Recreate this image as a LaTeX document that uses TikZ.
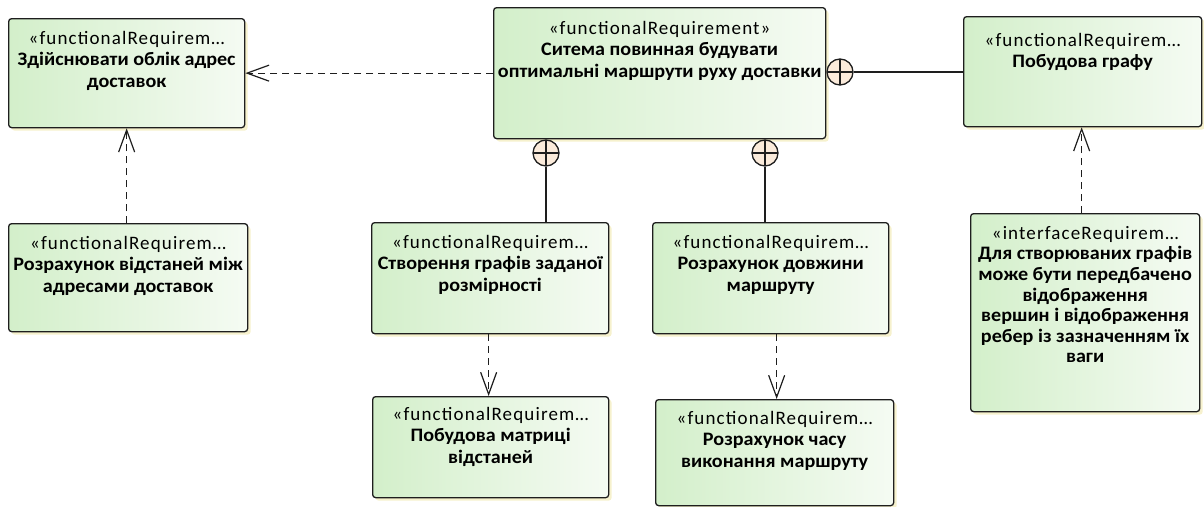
\documentclass[tikz,border=0pt]{standalone}
\usepackage{fontspec}
\setmainfont{Carlito}[BoldFeatures={FakeStretch=1.06}]
\newfontfamily\sterfont{Carlito}[LetterSpace=6]
\usetikzlibrary{arrows.meta,shadows}

\definecolor{boxline}{HTML}{1E1E1E}
\definecolor{boxleft}{HTML}{D3EFCA}
\definecolor{boxright}{HTML}{F5FBF3}
\definecolor{shadowcol}{HTML}{F6F1CD}
\definecolor{pluscol}{HTML}{FBEBDB}

\tikzset{
  reqbox/.style={draw=boxline, line width=1.3pt, rounded corners=3pt,
    left color=boxleft, right color=boxright, inner sep=0pt, anchor=north west,
    drop shadow={shadow xshift=3pt, shadow yshift=-3pt, fill=shadowcol, opacity=1}},
  reqtext/.style={anchor=north, align=center, inner sep=0pt,
    font=\fontsize{19}{21.5}\selectfont\bfseries},
  trace/.style={draw=boxline, line width=1.2pt, dash pattern=on 7pt off 5pt,
    -{Straight Barb[length=22pt, width=16pt, line width=1.2pt]}},
  nestline/.style={draw=boxline, line width=1.3pt},
  nestmark/.style={circle, draw=boxline, line width=1.3pt, fill=pluscol,
    minimum size=26pt, inner sep=0pt,
    path picture={\draw[boxline, line width=1.3pt]
      (path picture bounding box.north) -- (path picture bounding box.south)
      (path picture bounding box.west) -- (path picture bounding box.east);}},
}
\newcommand{\stereo}[1]{{\sterfont\mdseries\rule{0pt}{15pt}#1}}

\begin{document}
\begin{tikzpicture}[x=1pt, y=-1pt]
\useasboundingbox (0,0) rectangle (1204,506);

% requirement boxes
\node[reqbox, minimum width=236pt, minimum height=109pt] (b1) at (8,18) {};
\node[reqbox, minimum width=332pt, minimum height=131pt] (b2) at (493,7) {};
\node[reqbox, minimum width=238pt, minimum height=110pt] (b3) at (963,16) {};
\node[reqbox, minimum width=239pt, minimum height=108pt] (b4) at (8,223) {};
\node[reqbox, minimum width=237pt, minimum height=111pt] (b5) at (371,222) {};
\node[reqbox, minimum width=236pt, minimum height=111pt] (b6) at (652,222) {};
\node[reqbox, minimum width=236pt, minimum height=101pt] (b7) at (372,396) {};
\node[reqbox, minimum width=238pt, minimum height=106pt] (b8) at (655,399) {};
\node[reqbox, minimum width=229pt, minimum height=198pt] (b9) at (970,213) {};

% box texts
\node[reqtext] (t1) at ([yshift=-11pt]b1.north)
  {\stereo{«functionalRequirem…}\\Здійснювати облік адрес\\доставок};
\node[reqtext] (t2) at ([yshift=-12pt]b2.north)
  {\stereo{«functionalRequirement»}\\Ситема повинная будувати\\оптимальні маршрути руху доставки};
\node[reqtext] (t3) at ([yshift=-15pt]b3.north)
  {\stereo{«functionalRequirem…}\\Побудова графу};
\node[reqtext] (t4) at ([yshift=-11pt]b4.north)
  {\stereo{«functionalRequirem…}\\Розрахунок відстаней між\\адресами доставок};
\node[reqtext] (t5) at ([yshift=-11pt]b5.north)
  {\stereo{«functionalRequirem…}\\Створення графів заданої\\розмірності};
\node[reqtext] (t6) at ([yshift=-11pt]b6.north)
  {\stereo{«functionalRequirem…}\\Розрахунок довжини\\маршруту};
\node[reqtext] (t7) at ([yshift=-9pt]b7.north)
  {\stereo{«functionalRequirem…}\\Побудова матриці\\відстаней};
\node[reqtext] (t8) at ([yshift=-10pt]b8.north)
  {\stereo{«functionalRequirem…}\\Розрахунок часу\\виконання маршруту};
\node[reqtext, font=\fontsize{19}{20.6}\selectfont\bfseries] (t9) at ([yshift=-11pt]b9.north)
  {\stereo{«interfaceRequirem…}\\Для створюваних графів\\може бути передбачено\\відображення\\вершин і відображення\\ребер із зазначенням їх\\ваги};

% nesting markers on the parent requirement
\node[nestmark] (p1) at (840,72) {};
\node[nestmark] (p2) at (546,153) {};
\node[nestmark] (p3) at (765,153) {};

% nesting connectors
\draw[nestline] (p1.east) -- (p1.east -| b3.west);
\draw[nestline] (p2.south) -- (p2.south |- b5.north);
\draw[nestline] (p3.south) -- (p3.south |- b6.north);

% trace dependencies
\draw[trace] (b2.west) -- (b2.west -| b1.east);
\draw[trace] ([xshift=-1.5pt]b4.north) -- ([xshift=-1.5pt]b4.north |- b1.south);
\draw[trace] ([xshift=-3.5pt]b9.north) -- ([xshift=-3.5pt]b9.north |- b3.south);
\draw[trace] ([xshift=-1.5pt]b5.south) -- ([xshift=-1.5pt]b5.south |- b7.north);
\draw[trace] ([xshift=6pt]b6.south) -- ([xshift=6pt]b6.south |- b8.north);
\end{tikzpicture}
\end{document}
